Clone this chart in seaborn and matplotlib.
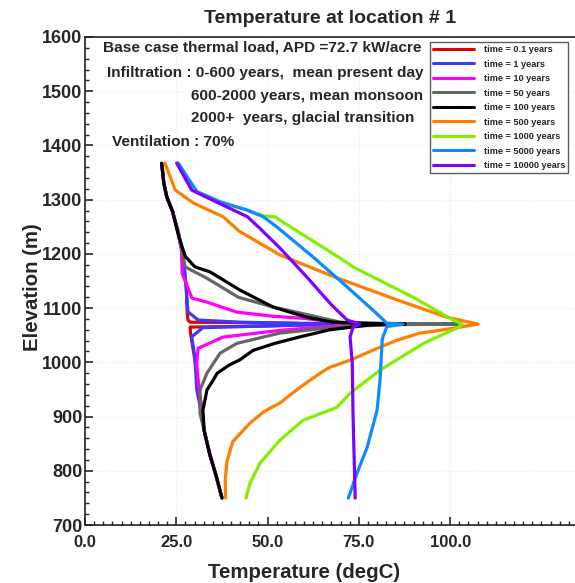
import numpy as np
import pandas as pd
import matplotlib
matplotlib.use("Agg")
import matplotlib.pyplot as plt
import seaborn as sns
from matplotlib.ticker import MultipleLocator, FixedLocator, FormatStrFormatter

# temperature (degC) and elevation (m) profiles
t_01 = [21.0, 21.6, 22.4, 24.0, 24.6, 25.6, 26.4, 27.1, 27.7, 28.0, 28.2, 28.8, 50.0, 65.0, 50.0, 28.8, 28.9, 30.2, 31.2, 32.3, 32.6, 34.2, 35.9, 37.5]
z_01 = [1367, 1330, 1305, 1278, 1262, 1235, 1210, 1180, 1140, 1091, 1078, 1074, 1073, 1070.5, 1067, 1065, 1054, 1000, 950, 900, 875, 830, 790, 750]

t_1 = [21.0, 21.6, 22.4, 24.0, 24.6, 25.6, 26.4, 27.1, 27.7, 28.2, 31.0, 42.5, 58.9, 78.0, 58.0, 32.3, 29.2, 30.1, 30.6, 31.8, 32.6, 34.2, 35.9, 37.5]
z_1 = [1367, 1330, 1305, 1278, 1262, 1235, 1210, 1180, 1140, 1093, 1078, 1074, 1072, 1070.5, 1068.5, 1064, 1047, 1010, 950, 910, 875, 830, 790, 750]

t_10 = [21.0, 21.6, 22.4, 24.0, 24.6, 25.6, 26.4, 26.6, 29.3, 33.4, 41.6, 51.5, 60.0, 69.9, 82.0, 70.0, 53.4, 37.8, 31.0, 30.6, 30.8, 31.4, 32.3, 32.6, 34.2, 35.9, 37.5]
z_10 = [1367, 1330, 1305, 1278, 1262, 1235, 1210, 1164, 1118.5, 1111, 1092.6, 1085, 1081, 1073, 1070.5, 1068, 1059, 1046.5, 1026, 1000, 980, 940, 900, 875, 830, 790, 750]

t_50 = [21.0, 21.6, 22.4, 24.0, 24.6, 25.5, 27.4, 33.4, 42.0, 51.5, 58.9, 69.9, 85.0, 102.0, 85.0, 70.0, 53.4, 41.6, 37.0, 33.4, 31.5, 31.5, 32.6, 34.2, 35.9, 37.5]
z_50 = [1367, 1330, 1305, 1278, 1262, 1244, 1176, 1155, 1120, 1102, 1091, 1074, 1071.5, 1070.5, 1069.5, 1066, 1054, 1035, 1017, 980, 949, 906, 875, 830, 790, 750]

t_100 = [21.0, 21.6, 22.4, 24.0, 24.6, 25.6, 26.5, 27.5, 30.1, 34.2, 42.5, 51.5, 60.8, 67.9, 78.0, 87.7, 78.0, 67.0, 58.9, 52.0, 46.0, 42.5, 39.5, 36.2, 35.1, 33.4, 32.3, 32.6, 34.2, 35.9, 37.5]
z_100 = [1367, 1330, 1305, 1278, 1262, 1235, 1215, 1195, 1176, 1167, 1133, 1102, 1083, 1074, 1071.5, 1070.5, 1069, 1060, 1047, 1035, 1022, 1005, 995, 980, 967, 949, 912, 875, 829, 792, 750]

t_500 = [21.9, 24.7, 29.6, 37.8, 42.2, 53.4, 68.5, 85.5, 99.2, 107.7, 97.3, 91.8, 85.5, 80.8, 72.6, 67.1, 64.4, 58.9, 53.4, 50.7, 48.8, 45.2, 40.5, 38.9, 38.4, 38.5]
z_500 = [1367.5, 1318, 1294, 1268.5, 1242, 1198, 1157, 1115, 1083, 1070.5, 1059, 1054, 1041, 1028, 1004, 991, 980, 954, 925, 915.5, 908, 888, 854, 818, 783, 750]

t_1000 = [25.5, 30.6, 37.0, 44.3, 49.0, 52.0, 53.4, 69.9, 73.4, 89.9, 100.8, 103.3, 102.7, 93.0, 80.8, 72.6, 69.0, 59.7, 53.4, 47.9, 45.2, 44.1]
z_1000 = [1367.5, 1315, 1296, 1281, 1270, 1268.5, 1262, 1192, 1176, 1120, 1078, 1071, 1066, 1036, 985.6, 943, 917, 893, 856.5, 814, 777, 750]

t_5000 = [25.5, 30.6, 37.0, 44.3, 48.8, 52.5, 62.5, 71.8, 78.9, 82.7, 87.1, 82.7, 81.6, 81.4, 80.8, 80.0, 77.3, 74.5, 72.1]
z_5000 = [1367.5, 1315, 1296, 1281, 1268.5, 1250, 1194, 1139, 1096, 1072, 1070.5, 1066, 1046.5, 1041, 967, 912, 843.6, 795.6, 749.5]

t_10000 = [25.1, 29.2, 33.7, 44.5, 47.9, 53.4, 60.8, 67.5, 71.8, 75.3, 73.4, 72.6, 73.2, 73.4, 74.0]
z_10000 = [1367.5, 1317.7, 1303, 1268.5, 1247, 1210.7, 1157, 1106, 1078, 1070.5, 1065, 1046.5, 998.5, 906, 749.5]

labels = ["time = 0.1 years", "time = 1 years", "time = 10 years", "time = 50 years",
          "time = 100 years", "time = 500 years", "time = 1000 years",
          "time = 5000 years", "time = 10000 years"]
colors = ["#e00000", "#3a3aff", "#ff00ff", "#666666", "#000000",
          "#ff7f00", "#80f000", "#0a8cff", "#8000ff"]
temps = [t_01, t_1, t_10, t_50, t_100, t_500, t_1000, t_5000, t_10000]
elevs = [z_01, z_1, z_10, z_50, z_100, z_500, z_1000, z_5000, z_10000]
x_ticks = [0, 25, 50, 75, 100]

sns.set_style("ticks")
plt.rcParams['font.family'] = ['Liberation Sans', 'DejaVu Sans']
plt.rcParams['font.weight'] = 'bold'

fig = plt.figure(figsize=(5.75, 5.83), dpi=100)
ax = fig.add_axes([85 / 575, 58 / 583, 490 / 575, 488 / 583])

for t, z, c, lab in zip(temps, elevs, colors, labels):
    df = pd.DataFrame({"T": t, "z": z})
    sns.lineplot(data=df, x="T", y="z", sort=False, estimator=None,
                 color=c, lw=2.3, label=lab, ax=ax)

ax.set_xlim(0, 134.2)
ax.set_ylim(700, 1600)
ax.xaxis.set_major_locator(FixedLocator(x_ticks))
ax.xaxis.set_minor_locator(MultipleLocator(2.5))
ax.xaxis.set_major_formatter(FormatStrFormatter("%.1f"))
ax.yaxis.set_major_locator(MultipleLocator(100))
ax.yaxis.set_minor_locator(MultipleLocator(20))
ax.tick_params(which="major", direction="in", length=6, width=1.2)
ax.tick_params(which="minor", direction="in", length=3, width=1.0)
ax.tick_params(axis="x", labelsize=12, pad=7)
ax.tick_params(axis="y", labelsize=13, pad=2)
ax.grid(True, color="#ececec", ls=":", lw=0.8)
ax.spines["right"].set_visible(False)
for s in ["left", "bottom", "top"]:
    ax.spines[s].set_linewidth(1.2)
    ax.spines[s].set_color("#222222")

ax.set_title("Temperature at location # 1", fontsize=14, fontweight="bold", pad=10)
ax.set_xlabel("Temperature (degC)", fontsize=14.7, fontweight="bold")
ax.set_ylabel("Elevation (m)", fontsize=14.7, fontweight="bold")
ax.xaxis.set_label_coords((304 - 85) / 490, -(572 - 525) / 488)
ax.yaxis.set_label_coords(-(85 - 32) / 490, (525 - 287) / 488)
ax.xaxis.label.set_va("center")
ax.yaxis.label.set_va("center")

note = dict(fontsize=11.1, fontweight="bold", va="center", transform=fig.transFigure)
fig.text(103 / 575, 1 - 47 / 583, "Base case thermal load, APD =72.7 kW/acre", **note)
fig.text(107 / 575, 1 - 73 / 583, "Infiltration : 0-600 years,  mean present day", **note)
fig.text(191 / 575, 1 - 96 / 583, "600-2000 years, mean monsoon", **note)
fig.text(191 / 575, 1 - 118 / 583, "2000+  years, glacial transition", **note)
fig.text(112 / 575, 1 - 142 / 583, "Ventilation : 70%", **note)

leg = ax.legend(loc="upper left", bbox_to_anchor=(0.704, 0.99), fontsize=6.6,
                handlelength=4.5, handletextpad=1.0, labelspacing=0.6,
                borderpad=0.35, borderaxespad=0, frameon=True, fancybox=False,
                edgecolor="#333333")
leg.get_frame().set_linewidth(1.0)
for h in leg.get_lines():
    h.set_linewidth(2.2)

fig.savefig("out.png", dpi=100)
